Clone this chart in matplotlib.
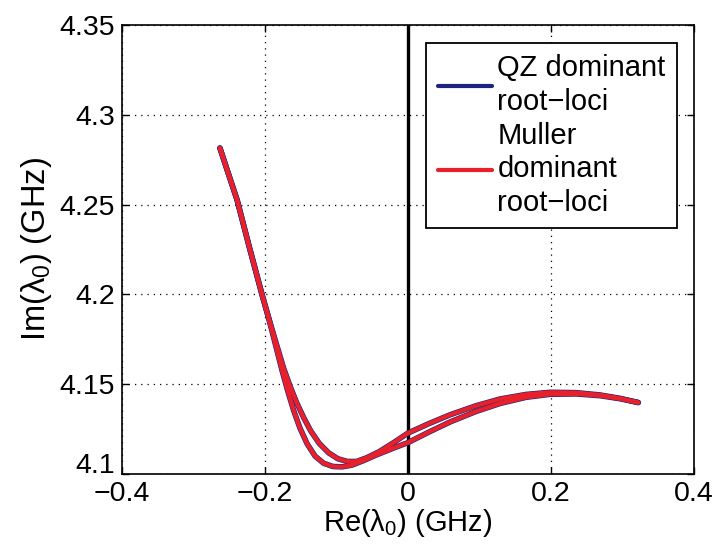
import matplotlib
matplotlib.use("Agg")
import matplotlib.pyplot as plt
from matplotlib.transforms import ScaledTranslation

plt.rcParams['font.family'] = ['Liberation Sans', 'DejaVu Sans']
plt.rcParams['mathtext.fontset'] = 'custom'
plt.rcParams['mathtext.rm'] = 'Liberation Sans'
plt.rcParams['mathtext.it'] = 'Liberation Sans'

# Dominant root locus, outer (lower) branch
outer_re = [-0.263, -0.251, -0.239, -0.222, -0.204, -0.193, -0.184, -0.176, -0.168,
            -0.160, -0.151, -0.141, -0.130, -0.118, -0.105, -0.092, -0.078,
            -0.062, -0.045, -0.023, 0.000, 0.030, 0.059, 0.095, 0.129, 0.165,
            0.199, 0.235, 0.269, 0.297, 0.322]
outer_im = [4.2815, 4.2670, 4.2526, 4.2265, 4.1997, 4.1840, 4.1700, 4.1575, 4.1460,
            4.1355, 4.1255, 4.1168, 4.1100, 4.1060, 4.1042, 4.1040, 4.1050,
            4.1075, 4.1105, 4.1140, 4.1175, 4.1235, 4.1290, 4.1348, 4.1393, 4.1427,
            4.1444, 4.1446, 4.1436, 4.1419, 4.1398]

# Dominant root locus, inner (upper) branch
inner_re = [-0.263, -0.251, -0.239, -0.222, -0.204, -0.193, -0.183, -0.174, -0.165,
            -0.156, -0.146, -0.136, -0.124, -0.111, -0.098, -0.085, -0.072,
            -0.058, -0.040, -0.020, 0.000, 0.030, 0.059, 0.095, 0.129, 0.165,
            0.199, 0.235, 0.269, 0.297, 0.322]
inner_im = [4.2815, 4.2670, 4.2526, 4.2265, 4.1997, 4.1845, 4.1710, 4.1590, 4.1490,
            4.1400, 4.1315, 4.1240, 4.1170, 4.1118, 4.1085, 4.1070, 4.1070,
            4.1090, 4.1125, 4.1175, 4.1228, 4.1282, 4.1330, 4.1380, 4.1418, 4.1443,
            4.1455, 4.1453, 4.1440, 4.1421, 4.1398]

x_ticks = [-0.4, -0.2, 0.0, 0.2, 0.4]
x_tick_labels = ["\u22120.4", "\u22120.2", "0", "0.2", "0.4"]
y_ticks = [4.1, 4.15, 4.2, 4.25, 4.3, 4.35]
y_tick_labels = ["4.1", "4.15", "4.2", "4.25", "4.3", "4.35"]

fig = plt.figure(figsize=(7.15, 5.48), dpi=100)
ax = fig.add_axes([0.1706, 0.135, 0.80, 0.8194])

blue = "#1c2480"
red = "#e8202a"

# QZ results underneath, Muller results drawn on top
ax.plot(outer_re, outer_im, color=blue, lw=4.0, solid_capstyle='round',
        solid_joinstyle='round', label="QZ dominant\nroot\u2212loci", zorder=3)
ax.plot(inner_re, inner_im, color=blue, lw=4.0, solid_capstyle='round',
        solid_joinstyle='round', zorder=3)
ax.plot(outer_re, outer_im, color=red, lw=3.1, solid_capstyle='round',
        solid_joinstyle='round', label="Muller\ndominant\nroot\u2212loci", zorder=4)
ax.plot(inner_re, inner_im, color=red, lw=3.1, solid_capstyle='round',
        solid_joinstyle='round', zorder=4)

# Imaginary axis
ax.axvline(0.0, color="black", lw=2.4, zorder=2)

ax.set_xlim(-0.4, 0.4)
ax.set_ylim(4.1, 4.35)
ax.set_xticks(x_ticks)
ax.set_xticklabels(x_tick_labels)
ax.set_yticks(y_ticks)
ax.set_yticklabels(y_tick_labels)
ax.tick_params(direction='in', top=True, right=True, labelsize=20.5, length=5,
               width=1, pad=5)
ax.grid(True, color="black", linestyle=(0, (1, 4)), linewidth=0.9)
for s in ax.spines.values():
    s.set_linewidth(1.2)

# lift the lowest y label so it clears the first x label
lowest = ax.get_yticklabels()[0]
lowest.set_transform(lowest.get_transform() +
                     ScaledTranslation(0, 8 / 72, fig.dpi_scale_trans))

ax.set_xlabel(r"Re($\lambda_0$) (GHz)", fontsize=21, labelpad=0)
ax.set_ylabel(r"Im($\lambda_0$) (GHz)", fontsize=23.5, labelpad=4)

leg = ax.legend(loc="upper right", bbox_to_anchor=(0.971, 0.961), fontsize=21,
                frameon=True, fancybox=False, edgecolor="black",
                handlelength=1.85, handletextpad=0.2, borderpad=0.4,
                labelspacing=0.2, borderaxespad=0.0)
leg.get_frame().set_linewidth(1.3)
leg.get_frame().set_alpha(1.0)
for txt in leg.get_texts():
    txt.set_linespacing(1.25)
for line in leg.get_lines():
    line.set_linewidth(3)

fig.savefig("out.png", dpi=100)
